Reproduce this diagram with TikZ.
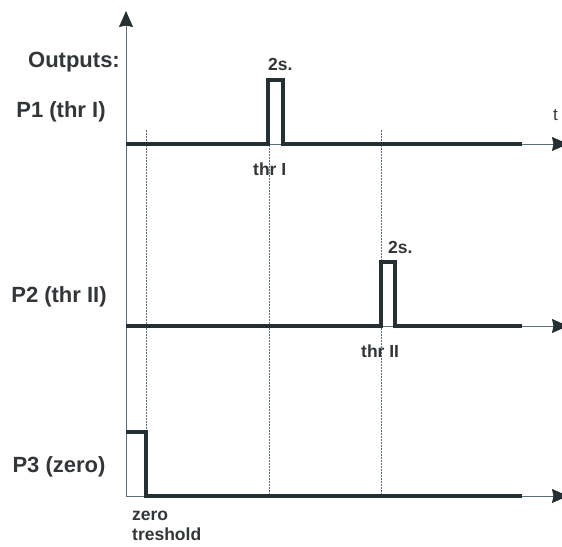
\documentclass[tikz,border=0pt]{standalone}
\usepackage{fontspec}
\setmainfont{Liberation Sans}
\usetikzlibrary{arrows.meta,positioning}
\definecolor{sigdark}{HTML}{263033}
\definecolor{axgray}{HTML}{5E6E76}
\definecolor{txtdark}{HTML}{333638}

\begin{document}
\begin{tikzpicture}[x=1pt,y=-1pt,
        big/.style={font=\bfseries\fontsize{22}{26}\selectfont,text=txtdark,inner sep=0pt},
        small/.style={font=\bfseries\fontsize{17.5}{20}\selectfont,text=txtdark,inner sep=0pt,align=left},
        ax/.style={-{Stealth[length=16pt,width=14pt,inset=1.5pt,color=sigdark]},axgray,line width=0.9pt},
        sig/.style={sigdark,line width=3.5pt},
        guide/.style={axgray,line width=0.7pt,dash pattern=on 1.5pt off 1.5pt}]
        \useasboundingbox (0,0) rectangle (562,546);
        \coordinate (o) at (126,496);\coordinate (ytop) at (126,11);
        \coordinate (o1) at (126,144);\coordinate (t1) at (568,144);
        \coordinate (o2) at (126,326);\coordinate (t2) at (568,326);
        \coordinate (t3) at (568,496);
        \coordinate (gz) at (146,130);\coordinate (gi) at (269,130);\coordinate (gii) at (381,130);
        % guides
        \draw[guide](gz)--(gz|-o);\draw[guide](gi)--(gi|-o);\draw[guide](gii)--(gii|-o);
        % axes
        \draw[ax](o)--(ytop);\draw[ax](o1)--(t1);\draw[ax](o2)--(t2);\draw[ax](o)--(t3);
        % signals
        \draw[sig](o1)--(268,144)--(268,80)--(283,80)--(283,144)--(522,144);
        \draw[sig](o2)--(381,326)--(381,262)--(395,262)--(395,326)--(522,326);
        \draw[sig](126,432)--(146,432)--(146,496)--(522,496);
        % labels
        \node[big,anchor=base east](outl) at (120,67){Outputs:};
        \node[big,anchor=base](p1l) at (61,117){P1 (thr I)};
        \node[big,anchor=base](p2l) at (59,302){P2 (thr II)};
        \node[big,anchor=base](p3l) at (59,472){P3 (zero)};
        \node[small,anchor=base west](d1) at (268,70){2s.};
        \node[small,anchor=base west](d2) at (388,253){2s.};
        \node[small,anchor=base west](thr1) at (253,175){thr I};
        \node[small,anchor=base west](thr2) at (361,357){thr II};
        \node[font=\fontsize{17}{20}\selectfont,text=txtdark,inner sep=0pt,anchor=base west](tl) at (553,120){t};
        \node[small,anchor=base west](zl) at (132,540){zero\\treshold};
      \end{tikzpicture}
\end{document}
